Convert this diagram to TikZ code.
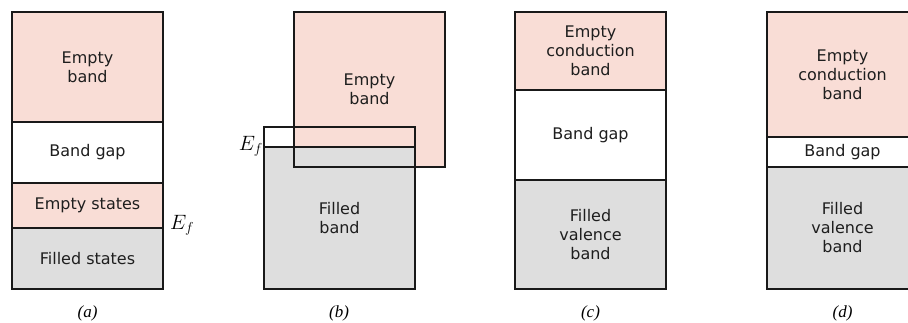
\documentclass[tikz,border=0pt]{standalone}
\usepackage{fontspec}
\setmainfont{Liberation Serif}
\setsansfont{DejaVu Sans}
\usepackage{tikz}
\usetikzlibrary{positioning}
\definecolor{emptycol}{RGB}{249,221,214}
\definecolor{filledcol}{RGB}{222,222,222}
\definecolor{linecol}{RGB}{25,25,25}
\definecolor{textcol}{RGB}{30,30,30}
\tikzset{
  bandfill/.style={rectangle,inner sep=0pt,outer sep=0pt,minimum width=151pt,align=center,
    text=textcol,font=\sffamily\fontsize{16}{19}\selectfont},
  band/.style={bandfill,draw=linecol,line width=1.3pt},
  emptyband/.style={band,fill=emptycol},
  gapband/.style={band,fill=white},
  filledband/.style={band,fill=filledcol},
  bandline/.style={draw=linecol,line width=1.3pt},
  caplabel/.style={font=\itshape\fontsize{17}{20}\selectfont,inner sep=0pt},
  fermilabel/.style={font=\fontsize{21}{24}\selectfont,inner sep=1pt}
}

\begin{document}
\begin{tikzpicture}[x=1pt,y=-1pt]
  \useasboundingbox (0,0) rectangle (908,322);

  % (a) metal with partly filled band
  \node[emptyband,minimum height=110pt] (aempty) at (87.5,67) {Empty\\band};
  \node[gapband,minimum height=61pt] (agap) at (87.5,152.5) {Band gap};
  \node[emptyband,minimum height=45pt] (astates) at (87.5,205.5) {Empty states};
  \node[filledband,minimum height=61pt] (afilled) at (87.5,258.5) {Filled states};
  \node[fermilabel,anchor=west] (aef) at (169,225) {$E_f$};
  \node[caplabel] (acap) at (87.5,313) {(a)};

  % (b) overlapping bands
  \node[bandfill,fill=emptycol,minimum height=155pt] (bempty) at (369.5,89.5) {Empty\\band};
  \node[bandfill,fill=filledcol,minimum height=142pt] (bfilled) at (339.5,218) {Filled\\band};
  \node[bandfill,minimum height=162pt] (bband) at (339.5,208) {};
  \draw[bandline] (bempty.south west) rectangle (bempty.north east);
  \draw[bandline] (bband.south west) rectangle (bband.north east);
  \draw[bandline] (bfilled.north west) -- (bfilled.north east);
  \node[fermilabel,anchor=east] (bef) at ([yshift=1pt]bfilled.north west) {$E_f$};
  \node[caplabel] (bcap) at (339,313) {(b)};

  % (c) insulator
  \node[emptyband,minimum height=78pt] (cempty) at (590.5,51) {Empty\\conduction\\band};
  \node[gapband,minimum height=90pt] (cgap) at (590.5,135) {Band gap};
  \node[filledband,minimum height=109pt] (cfilled) at (590.5,234.5) {Filled\\valence\\band};
  \node[caplabel] (ccap) at (590.5,313) {(c)};

  % (d) semiconductor
  \node[emptyband,minimum height=125pt] (dempty) at (842.5,74.5) {Empty\\conduction\\band};
  \node[gapband,minimum height=30pt] (dgap) at (842.5,152) {Band gap};
  \node[filledband,minimum height=122pt] (dfilled) at (842.5,228) {Filled\\valence\\band};
  \node[caplabel] (dcap) at (842.5,313) {(d)};
\end{tikzpicture}
\end{document}
